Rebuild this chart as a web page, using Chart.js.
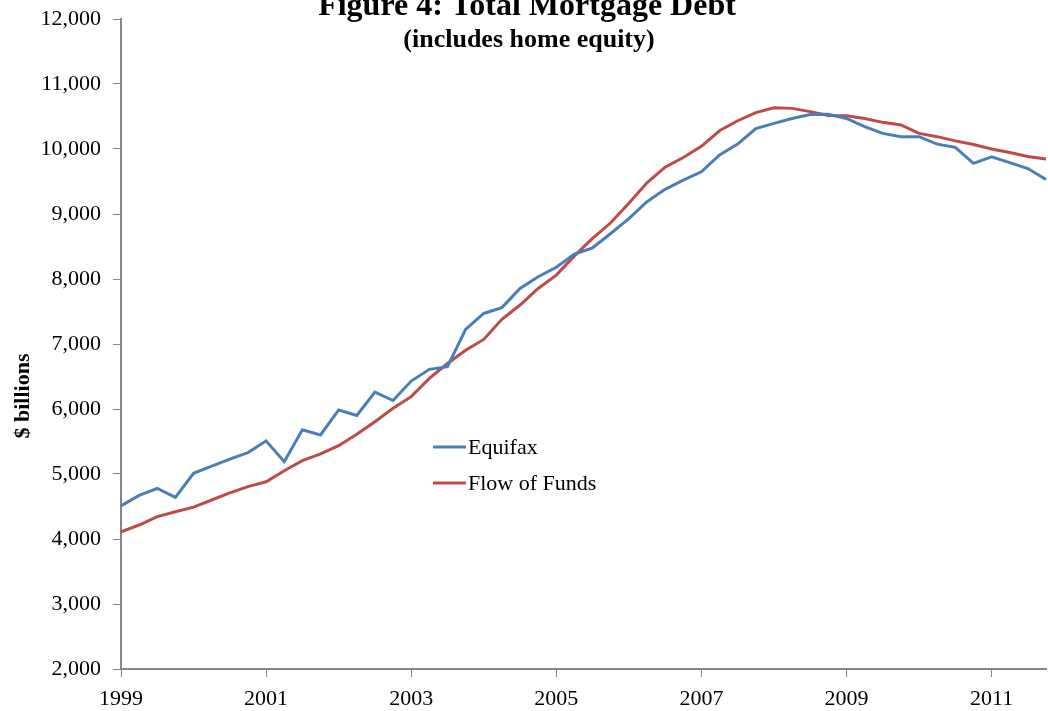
<!DOCTYPE html>
<html lang="en">
<head>
    <meta charset="UTF-8">
    <title>Figure 4: Total Mortgage Debt</title>
    <script src="https://cdn.jsdelivr.net/npm/chart.js"></script>
    <style>
        html, body { margin: 0; padding: 0; background: #fff; }
        #wrap { width: 1048px; height: 711px; position: relative; overflow: hidden; }
    </style>
</head>
<body>
    <div id="wrap">
        <canvas id="mortgageChart" width="1048" height="711"></canvas>
    </div>

    <script>
        // Quarterly categories, 1999Q1 - 2011Q4
        const years = [1999, 2000, 2001, 2002, 2003, 2004, 2005, 2006, 2007, 2008, 2009, 2010, 2011];
        const quarters = [];
        years.forEach(function(y) {
            for (let q = 1; q <= 4; q++) quarters.push(y + 'Q' + q);
        });

        // $ billions
        const equifax = [
            4510, 4670, 4780, 4640, 5010, 5120, 5230, 5330,
            5510, 5190, 5680, 5600, 5985, 5900, 6260, 6130,
            6430, 6610, 6650, 7225, 7470, 7560, 7855, 8035,
            8180, 8385, 8480, 8700, 8930, 9190, 9380, 9520,
            9650, 9910, 10075, 10315, 10395, 10470, 10530, 10535,
            10470, 10345, 10240, 10190, 10190, 10075, 10025, 9780,
            9880, 9790, 9700, 9530
        ];
        const flowOfFunds = [
            4110, 4215, 4345, 4420, 4490, 4600, 4710, 4805,
            4880, 5050, 5205, 5310, 5435, 5610, 5805, 6010,
            6190, 6470, 6700, 6905, 7070, 7380, 7600, 7855,
            8060, 8355, 8625, 8865, 9165, 9480, 9720, 9870,
            10040, 10280, 10435, 10560, 10635, 10625, 10575, 10515,
            10510, 10470, 10410, 10370, 10240, 10190, 10125, 10070,
            10000, 9945, 9885, 9845
        ];
        const seriesNames = ['Equifax', 'Flow of Funds'];
        const labelEvery = 8; // a year label every 2 years

        const serif = '"Liberation Serif", "Times New Roman", serif';
        const axisGray = '#868686';

        // titles, rotated axis title and the in-plot legend
        const decorations = {
            id: 'decorations',
            afterDraw(chart) {
                const c = chart.ctx;
                c.save();
                c.fillStyle = '#000';
                c.textAlign = 'center';
                c.textBaseline = 'alphabetic';
                c.font = 'bold 32px ' + serif;
                c.fillText('Figure 4: Total Mortgage Debt', 527, 15);
                c.font = 'bold 26px ' + serif;
                c.fillText('(includes home equity)', 529, 47);

                c.save();
                c.translate(29, 396);
                c.rotate(-Math.PI / 2);
                c.font = 'bold 22px ' + serif;
                c.fillText('$ billions', 0, 0);
                c.restore();

                // legend
                c.textAlign = 'left';
                c.textBaseline = 'middle';
                c.font = '22px ' + serif;
                chart.data.datasets.forEach(function(ds, i) {
                    const y = 447 + i * 36;
                    c.strokeStyle = ds.borderColor;
                    c.lineWidth = 3;
                    c.beginPath();
                    c.moveTo(433, y);
                    c.lineTo(466, y);
                    c.stroke();
                    c.fillStyle = '#000';
                    c.fillText(ds.label, 468, y + 1);
                });
                c.restore();
            }
        };

        const ctx = document.getElementById('mortgageChart').getContext('2d');
        const mortgageChart = new Chart(ctx, {
            type: 'line',
            data: {
                labels: quarters,
                datasets: [{
                    label: seriesNames[0],
                    data: equifax,
                    borderColor: '#4A7EBB',
                    borderWidth: 3,
                    pointRadius: 0,
                    tension: 0,
                    fill: false
                }, {
                    label: seriesNames[1],
                    data: flowOfFunds,
                    borderColor: '#BE4B48',
                    borderWidth: 3,
                    pointRadius: 0,
                    tension: 0,
                    fill: false
                }]
            },
            options: {
                responsive: false,
                animation: false,
                layout: { padding: { top: 19, right: 2, left: 0, bottom: 0 } },
                plugins: {
                    legend: { display: false },
                    tooltip: { enabled: false },
                    title: { display: false }
                },
                scales: {
                    x: {
                        type: 'category',
                        offset: false,
                        grid: {
                            drawOnChartArea: false,
                            tickLength: 8,
                            tickColor: function(c) {
                                return c.index % labelEvery === 0 ? axisGray : 'rgba(0,0,0,0)';
                            }
                        },
                        border: { color: axisGray, width: 2 },
                        ticks: {
                            autoSkip: false,
                            maxRotation: 0,
                            minRotation: 0,
                            padding: 9,
                            color: '#000',
                            font: { family: serif, size: 22 },
                            callback: function(val, i) {
                                return i % labelEvery === 0 ? quarters[i].slice(0, 4) : '';
                            }
                        },
                        afterFit: function(scale) {
                            scale.height = 42;
                            scale.paddingLeft = 0;
                            scale.paddingRight = 0;
                        }
                    },
                    y: {
                        min: 2000,
                        max: 12000,
                        grid: {
                            drawOnChartArea: false,
                            tickLength: 8,
                            tickColor: axisGray
                        },
                        border: { color: axisGray, width: 2 },
                        ticks: {
                            stepSize: 1000,
                            padding: 12,
                            color: '#000',
                            font: { family: serif, size: 22 },
                            callback: function(v) { return v.toLocaleString('en-US'); }
                        },
                        afterFit: function(scale) {
                            scale.width = 121;
                            scale.paddingTop = 0;
                            scale.paddingBottom = 0;
                        }
                    }
                }
            },
            plugins: [decorations]
        });
    </script>
</body>
</html>
